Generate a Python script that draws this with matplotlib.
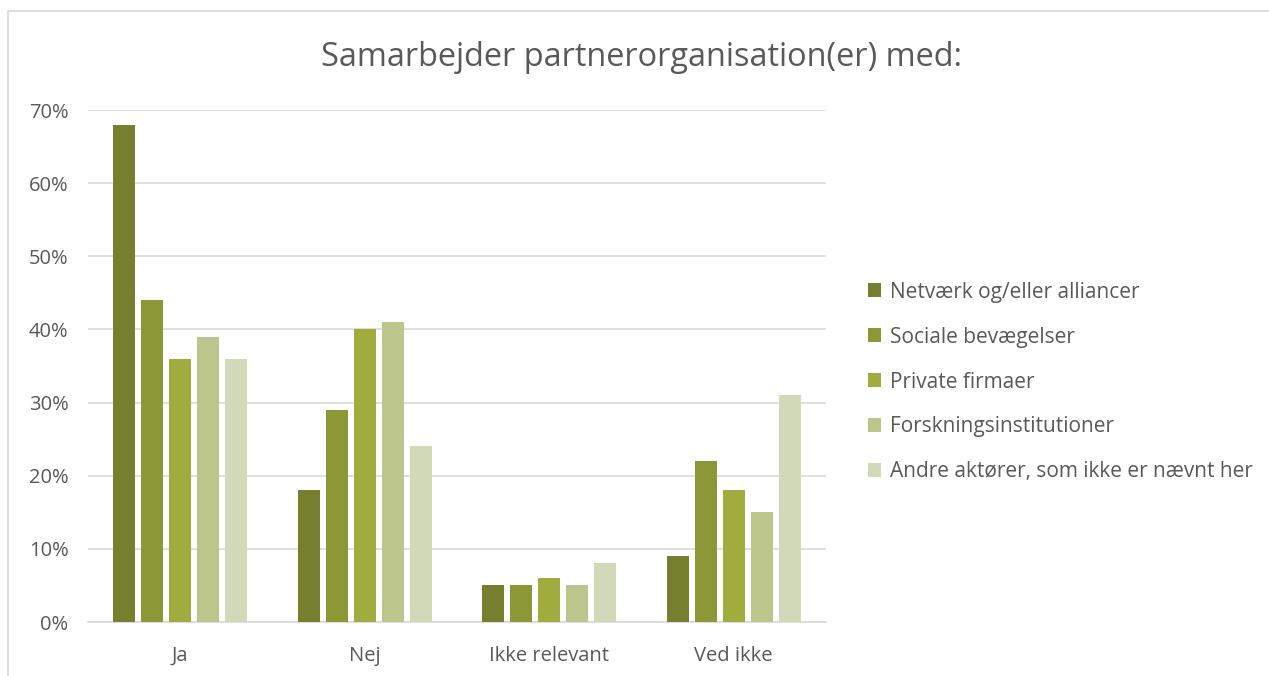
import matplotlib
matplotlib.use("Agg")
import matplotlib.pyplot as plt
import numpy as np
from matplotlib.patches import Rectangle

categories = ["Ja", "Nej", "Ikke relevant", "Ved ikke"]
series_names = ["Netværk og/eller alliancer", "Sociale bevægelser", "Private firmaer",
                "Forskningsinstitutioner", "Andre aktører, som ikke er nævnt her"]
netvaerk = [68, 18, 5, 9]
sociale = [44, 29, 5, 22]
private = [36, 40, 6, 18]
forskning = [39, 41, 5, 15]
andre = [36, 24, 8, 31]
values = [netvaerk, sociale, private, forskning, andre]
colors = ["#767F2E", "#8C9736", "#A0AC3D", "#BBC58C", "#D2D9B9"]
yticks = [0, 10, 20, 30, 40, 50, 60, 70]

plt.rcParams['font.family'] = ['Open Sans', 'DejaVu Sans']
W, H = 1269, 676
fig = plt.figure(figsize=(W/100, H/100), dpi=100)
fig.patches.append(Rectangle((8/W, -0.1), 1.2, 1.1 - 11/H, transform=fig.transFigure,
                             fill=False, edgecolor="#D9D9D9", lw=1.2))
ax = fig.add_axes([88/W, 1 - 622/H, (826-88)/W, (622-110)/H])

x = np.arange(len(categories))
bw = 0.12
step = 0.152
for i, (vals, c, name) in enumerate(zip(values, colors, series_names)):
    ax.bar(x + (i - 2) * step, vals, width=bw, color=c, label=name, zorder=3)

ax.set_xlim(-0.5, 3.5)
ax.set_ylim(0, 70)
ax.set_yticks(yticks)
ax.set_yticklabels([f"{t}%" for t in yticks], fontsize=14.5, color="#595959")
ax.set_xticks(x)
ax.set_xticklabels(categories, fontsize=14.5, color="#595959")
ax.tick_params(axis='both', length=0)
ax.tick_params(axis='x', pad=17)
ax.tick_params(axis='y', pad=14)
ax.grid(axis='y', color="#D9D9D9", lw=1.2, zorder=0)
for s in ["top", "right", "left"]:
    ax.spines[s].set_visible(False)
ax.spines["bottom"].set_color("#D9D9D9")
ax.spines["bottom"].set_linewidth(1.2)

fig.text(642/W, 1 - 58/H, "Samarbejder partnerorganisation(er) med:", ha="center", va="center",
         fontsize=23.4, color="#595959")

leg = ax.legend(loc="center left", bbox_to_anchor=(849/W, 1 - 382/H), bbox_transform=fig.transFigure,
                frameon=False, fontsize=15, handlelength=0.65, handleheight=0.65,
                handletextpad=0.4, labelspacing=1.15, labelcolor="#595959")

fig.savefig("out.png", dpi=100)
